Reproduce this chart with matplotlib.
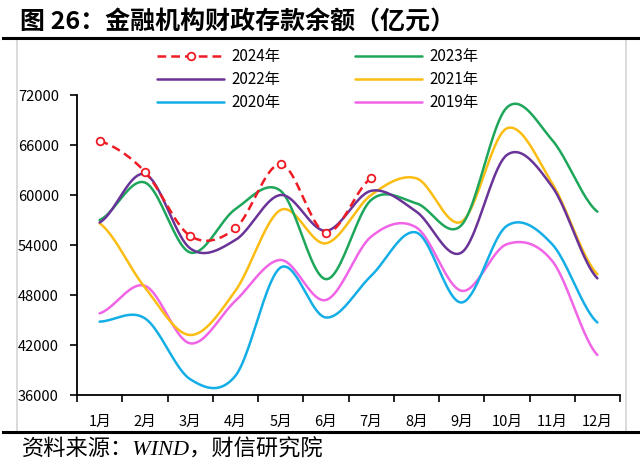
"""
金融机构财政存款余额（亿元）月度对比图
"""
import numpy as np
import matplotlib
matplotlib.use('Agg')
import matplotlib.pyplot as plt
from matplotlib.lines import Line2D
from matplotlib.patches import Rectangle

plt.rcParams['font.family'] = ['Noto Sans CJK SC', 'DejaVu Sans']

# データ
months = ['1月', '2月', '3月', '4月', '5月', '6月',
          '7月', '8月', '9月', '10月', '11月', '12月']
y2024 = [66500, 62800, 55100, 56000, 63700, 55500, 62000]
y2023 = [57000, 61500, 53100, 58300, 60500, 49900, 59400, 59000, 56400, 70500, 66600, 58000]
y2022 = [56700, 62500, 53600, 54600, 60000, 55700, 60500, 58000, 53100, 64800, 61000, 50000]
y2021 = [56600, 48900, 43200, 48500, 58200, 54200, 60000, 62000, 56800, 68000, 61400, 50500]
y2020 = [44800, 45200, 37900, 38300, 51300, 45300, 50300, 55500, 47100, 56300, 54100, 44700]
y2019 = [45800, 49100, 42200, 47300, 52200, 47400, 55000, 56100, 48500, 54100, 52100, 40800]
yticks = [36000, 42000, 48000, 54000, 60000, 66000, 72000]

W, H = 640, 473
N_SEG = 24


def smooth(vals):
    """Excel風の平滑線（Catmull-Rom）"""
    p = np.asarray(vals, dtype=float)
    n = len(p)
    m = np.zeros(n)
    for i in range(n):
        a = p[max(i - 1, 0)]
        b = p[min(i + 1, n - 1)]
        m[i] = (b - a) / 2.0
    xs, ys = [], []
    for i in range(n - 1):
        t = np.linspace(0, 1, N_SEG, endpoint=False)
        h00 = 2 * t**3 - 3 * t**2 + 1
        h10 = t**3 - 2 * t**2 + t
        h01 = -2 * t**3 + 3 * t**2
        h11 = t**3 - t**2
        xs.append(i + t)
        ys.append(h00 * p[i] + h10 * m[i] + h01 * p[i + 1] + h11 * m[i + 1])
    xs.append([n - 1])
    ys.append([p[-1]])
    return np.concatenate(xs), np.concatenate(ys)


fig = plt.figure(figsize=(W / 100, H / 100), dpi=100)

# 外枠と区切り線
fig.add_artist(Rectangle((17 / W, 1 - 432 / H), (626 - 17) / W, (432 - 39) / H,
                         transform=fig.transFigure, fill=False,
                         edgecolor='#d4d4d4', linewidth=1.2))
fig.add_artist(Line2D([3 / W, 1], [1 - 38 / H] * 2, color='black', linewidth=2.2))
fig.add_artist(Line2D([3 / W, 1], [1 - 432 / H] * 2, color='black', linewidth=2.2))

fig.text(20 / W, 1 - 22 / H, '图 26：金融机构财政存款余额（亿元）',
         fontsize=18, fontweight='bold', va='center', ha='left')
fig.text(22 / W, 1 - 450 / H, '资料来源：WIND，财信研究院',
         fontsize=16, va='center', ha='left', style='italic',
         family=['Liberation Serif', 'Noto Sans CJK SC'])

ax = fig.add_axes([77 / W, 1 - 395 / H, (620 - 77) / W, (395 - 95) / H])

series = [
    ('2019年', y2019, '#f064e6'),
    ('2020年', y2020, '#14aee6'),
    ('2021年', y2021, '#fbbd12'),
    ('2023年', y2023, '#1ea65a'),
    ('2022年', y2022, '#6a3398'),
]
handles = {}
lw = 1.8
for name, vals, col in series:
    sx, sy = smooth(vals)
    ln, = ax.plot(sx, sy, color=col, linewidth=lw, solid_capstyle='round', zorder=3)
    handles[name] = ln

# 2024年（破線＋マーカー）
sx, sy = smooth(y2024)
ax.plot(sx, sy, color='#ee1c24', linewidth=1.8, linestyle=(0, (3.5, 2)), zorder=4)
ax.plot(range(len(y2024)), y2024, linestyle='none', marker='o', markersize=5.5,
        markerfacecolor='white', markeredgecolor='#ee1c24', markeredgewidth=1.3, zorder=5)
handles['2024年'] = Line2D([], [], color='#ee1c24', linewidth=1.8, linestyle=(0, (3.5, 2)),
                          marker='o', markersize=5.5, markerfacecolor='white',
                          markeredgecolor='#ee1c24', markeredgewidth=1.3)

ax.set_xlim(-0.5, 11.5)
ax.set_ylim(36000, 72000)
ax.set_yticks(yticks)
ax.set_yticklabels([str(v) for v in yticks])
ax.set_xticks(range(12))
ax.set_xticklabels(months)
ax.set_xticks(np.arange(-0.5, 12, 1), minor=True)
ax.tick_params(axis='x', which='major', length=0, pad=14, labelsize=10.5)
ax.tick_params(axis='x', which='minor', length=5, width=1.2, direction='out')
ax.tick_params(axis='y', length=5, width=1.2, direction='out', pad=8, labelsize=10.5)
for s in ['top', 'right']:
    ax.spines[s].set_visible(False)
for s in ['left', 'bottom']:
    ax.spines[s].set_linewidth(1.3)

order = ['2024年', '2022年', '2020年', '2023年', '2021年', '2019年']
fig.legend([handles[k] for k in order], order, ncol=2, frameon=False,
           loc='upper left', bbox_to_anchor=(157 / W, 1 - 48 / H),
           borderpad=0, borderaxespad=0, fontsize=11, handlelength=4.4,
           handletextpad=0.45, columnspacing=4.9, labelspacing=0.4, numpoints=1)

plt.savefig('out.png', dpi=100)
